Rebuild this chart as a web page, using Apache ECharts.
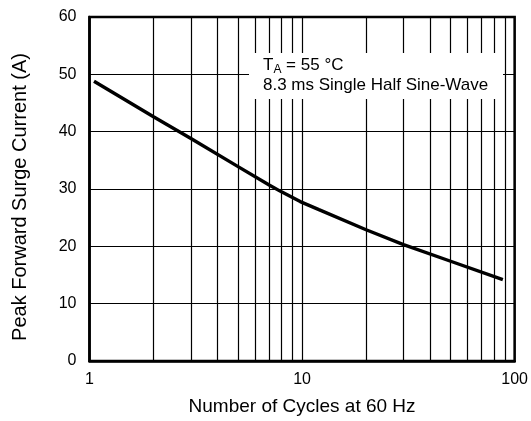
<!DOCTYPE html>
<html>
<head>
<meta charset="utf-8">
<script src="https://cdn.jsdelivr.net/npm/echarts@6/dist/echarts.min.js"></script>
<style>html,body{margin:0;padding:0;background:#fff}#c{width:531px;height:421px}</style>
</head>
<body>
<div id="c"></div>
<script>
var cycles = [1.05, 2, 3, 5, 7, 8, 9.8, 12, 20, 30, 50, 88];
var current = [48.8, 42.6, 38.8, 33.9, 30.7, 29.5, 27.8, 26.4, 22.9, 20.3, 17.4, 14.2];
var minorGrid = [2, 3, 4, 5, 6, 7, 8, 9, 20, 30, 40, 50, 60, 70, 80, 90];
var xTicks = [1, 10, 100];
var yTicks = [0, 10, 20, 30, 40, 50, 60];
var xName = 'Number of Cycles at 60 Hz';
var yName = 'Peak Forward Surge Current (A)';
var noteLine1 = '{n|T}{s|A}{n| = 55 °C}';
var noteLine2 = '8.3 ms Single Half Sine-Wave';

var FONT = '"Liberation Sans", Arial, Helvetica, sans-serif';
var chart = echarts.init(document.getElementById('c'));
chart.setOption({
  animation: false,
  backgroundColor: '#fff',
  textStyle: { fontFamily: FONT, color: '#000' },
  grid: { left: 89.5, right: 16, top: 17, bottom: 57, show: true, borderColor: '#000', borderWidth: 2.5, backgroundColor: 'transparent' },
  xAxis: {
    type: 'log', logBase: 10, min: 1, max: 100,
    name: xName, nameLocation: 'middle', nameGap: 36,
    nameTextStyle: { fontSize: 19, color: '#000', fontFamily: FONT },
    axisLine: { show: true, lineStyle: { color: '#000', width: 2.5 } },
    axisTick: { show: false },
    axisLabel: { fontSize: 16, color: '#000', margin: 11, fontFamily: FONT,
      formatter: function (v) { return xTicks.indexOf(v) >= 0 ? String(v) : ''; } },
    splitLine: { show: true, lineStyle: { color: '#000', width: 1.2 } }
  },
  yAxis: {
    type: 'value', min: 0, max: 60, interval: 10,
    name: yName, nameLocation: 'middle', nameGap: 59,
    nameTextStyle: { fontSize: 20, color: '#000', fontFamily: FONT, padding: [0, 16, 0, 0] },
    axisLine: { show: true, lineStyle: { color: '#000', width: 2.5 } },
    axisTick: { show: false },
    axisLabel: { fontSize: 16, color: '#000', margin: 13, fontFamily: FONT,
      formatter: function (v) { return yTicks.indexOf(v) >= 0 ? String(v) : ''; } },
    splitLine: { show: true, lineStyle: { color: '#000', width: 1.2 } }
  },
  graphic: {
    z: 50,
    elements: [
      { type: 'rect', left: 249, top: 53, shape: { width: 254, height: 46 }, style: { fill: '#fff' }, z: 50 },
      { type: 'text', left: 263, top: 55, z: 51,
        style: { text: noteLine1, fill: '#000',
          rich: { n: { fontSize: 17, fontFamily: FONT, lineHeight: 22, verticalAlign: 'middle' },
                  s: { fontSize: 12, fontFamily: FONT, lineHeight: 22, verticalAlign: 'bottom', padding: [9, 0, 0, 0] } } } },
      { type: 'text', left: 263, top: 77, z: 51,
        style: { text: noteLine2, fill: '#000', fontSize: 17, fontFamily: FONT } }
    ]
  },
  series: [
    {
      type: 'line', data: cycles.map(function (c, i) { return [c, current[i]]; }),
      showSymbol: false, symbol: 'none', smooth: false,
      lineStyle: { color: '#000', width: 3.4 },
      z: 5,
      markLine: {
        silent: true, symbol: 'none', animation: false,
        label: { show: false },
        lineStyle: { color: '#000', width: 1.2, type: 'solid' },
        data: minorGrid.map(function (v) { return { xAxis: v }; })
      }
    }
  ]
});
</script>
</body>
</html>
